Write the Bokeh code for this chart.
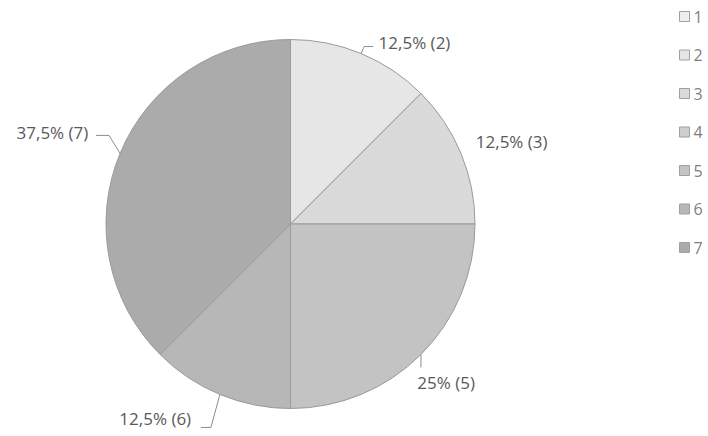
import math
from bokeh.plotting import figure
from bokeh.models import Range1d, ColumnDataSource
from bokeh.core.properties import value
from bokeh.embed import file_html
from bokeh.resources import INLINE

# ---- data ----
categories = ["1", "2", "3", "4", "5", "6", "7"]
counts = [0, 1, 1, 0, 2, 1, 3]
colors = ["#eeeeee", "#e6e6e6", "#dadada", "#cecece", "#c3c3c3", "#b7b7b7", "#ababab"]

# ---- layout ----
W, H = 708, 436
CX, CY_PIX, R = 290, 223.5, 184.5
CY = H - CY_PIX
FONT = value("Open Sans")

p = figure(width=W, height=H, output_backend="svg", toolbar_location=None,
           x_range=Range1d(0, W), y_range=Range1d(0, H), min_border=0)
p.axis.visible = False
p.grid.visible = False
p.outline_line_color = None
p.background_fill_color = "white"

total = float(sum(counts))
starts, ends, mids, fc, labels = [], [], [], [], []
cum = 0.0
for c, v, col in zip(categories, counts, colors):
    if v > 0:
        a0 = math.pi / 2 - 2 * math.pi * (cum + v) / total
        a1 = math.pi / 2 - 2 * math.pi * cum / total
        starts.append(a0)
        ends.append(a1)
        mids.append((a0 + a1) / 2)
        fc.append(col)
        pct = v / total * 100
        s = ("%.1f" % pct).rstrip("0").rstrip(".").replace(".", ",")
        labels.append("%s%% (%s)" % (s, c))
    cum += v

src = ColumnDataSource(dict(start=starts, end=ends, color=fc))
p.wedge(x=CX, y=CY, radius=R, start_angle="start", end_angle="end",
        direction="anticlock", fill_color="color", line_color="#9a9a9a",
        line_width=1, source=src)

# label placement (layout tweaks per visible slice): clockwise angle shift (deg), radius
label_shift = [11.8, 2.1, 0.5, 12.3, -1.5]
label_rad = [220, 236, 222, 237, 255]
lx, ly = [], []
for m, sh, rr in zip(mids, label_shift, label_rad):
    a = m - math.radians(sh)
    lx.append(CX + rr * math.cos(a))
    ly.append(CY + rr * math.sin(a))
lsrc = ColumnDataSource(dict(x=lx, y=ly, t=labels))
p.text(x="x", y="y", text="t", source=lsrc, text_font=FONT,
       text_font_size="17px", text_color="#595959",
       text_align="center", text_baseline="middle")

# leader lines (none for the slice-3 label)
xs, ys = [], []
for i, m in enumerate(mids):
    ex, ey = CX + R * math.cos(m), CY + R * math.sin(m)
    if i == 0:
        xs.append([ex, ex + 3, ex + 12]); ys.append([ey, ey + 7, ey + 7])
    elif i == 2:
        xs.append([ex, ex]); ys.append([ey, ey - 13])
    elif i == 3:
        xs.append([ex, ex - 9, ex - 19]); ys.append([ey, ey - 33, ey - 33])
    elif i == 4:
        xs.append([ex, ex - 11, ex - 24]); ys.append([ey, ey + 18, ey + 18])
p.multi_line(xs=xs, ys=ys, line_color="#8c8c8c", line_width=1)

# legend
n = len(categories)
leg_y = [H - (16 + i * 38.5) for i in range(n)]
p.rect(x=[684] * n, y=leg_y, width=10, height=10, fill_color=colors,
       line_color="#a0a0a0", line_width=1)
p.text(x=[693] * n, y=leg_y, text=categories, text_font=FONT,
       text_font_size="16px", text_color="#7f7f7f",
       text_align="left", text_baseline="middle")

open("out.html", "w").write(file_html(p, INLINE))
